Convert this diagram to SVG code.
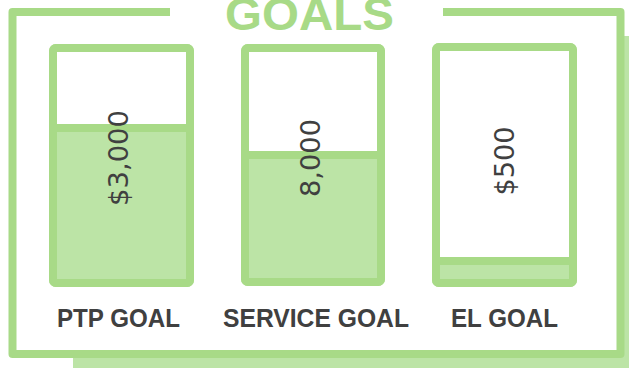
<svg xmlns="http://www.w3.org/2000/svg" width="629" height="368" viewBox="0 0 629 368">
<style>
.frame{fill:none;stroke:#a8da87;stroke-width:8;stroke-linejoin:round}
.box{fill:#ffffff;stroke:#a8da87;stroke-width:8;stroke-linejoin:round}
.fill{fill:#bce4a6}
.lvl{stroke:#a8da87;stroke-width:8}
.val{font-family:"DejaVu Sans",sans-serif;font-size:26px;fill:#404040;text-anchor:middle}
.lbl{font-family:"Liberation Sans",Arial,sans-serif;font-weight:bold;font-size:26px;fill:#404040;text-anchor:middle}
</style>
<rect x="73" y="36" width="570" height="340" fill="#bce4a6"/>
<g id="frame">
<rect x="12.5" y="12" width="608" height="342" fill="#ffffff" stroke="none"/>
<path class="frame" d="M170,12 H12.5 V354 H620.5 V12 H443"/>
</g>
<text x="309.5" y="30" font-family="Liberation Sans,Arial,sans-serif" font-weight="bold" font-size="46" fill="#a8da87" text-anchor="middle" textLength="169" lengthAdjust="spacingAndGlyphs">GOALS</text>
<g id="ptp">
<rect class="box" x="53" y="48" width="137" height="235" rx="3"/>
<rect class="fill" x="57" y="128" width="129" height="151"/>
<line class="lvl" x1="53" y1="128" x2="190" y2="128"/>
<rect class="frame" x="53" y="48" width="137" height="235" rx="3"/>
<text class="val" transform="translate(128,158) rotate(-90)" textLength="96" lengthAdjust="spacingAndGlyphs">$3,000</text>
<text class="lbl" x="118.5" y="327" textLength="123" lengthAdjust="spacingAndGlyphs">PTP GOAL</text>
</g>
<g id="service">
<rect class="box" x="245" y="48" width="136" height="234" rx="3"/>
<rect class="fill" x="249" y="155" width="128" height="123"/>
<line class="lvl" x1="245" y1="155" x2="381" y2="155"/>
<rect class="frame" x="245" y="48" width="136" height="234" rx="3"/>
<text class="val" transform="translate(320,158) rotate(-90)" textLength="78" lengthAdjust="spacingAndGlyphs">8,000</text>
<text class="lbl" x="316" y="327" textLength="186" lengthAdjust="spacingAndGlyphs">SERVICE GOAL</text>
</g>
<g id="el">
<rect class="box" x="436" y="47" width="137" height="236" rx="3"/>
<rect class="fill" x="440" y="261" width="129" height="18"/>
<line class="lvl" x1="436" y1="261" x2="573" y2="261"/>
<rect class="frame" x="436" y="47" width="137" height="236" rx="3"/>
<text class="val" transform="translate(514,161) rotate(-90)" textLength="69" lengthAdjust="spacingAndGlyphs">$500</text>
<text class="lbl" x="504.5" y="327" textLength="107" lengthAdjust="spacingAndGlyphs">EL GOAL</text>
</g>
</svg>
